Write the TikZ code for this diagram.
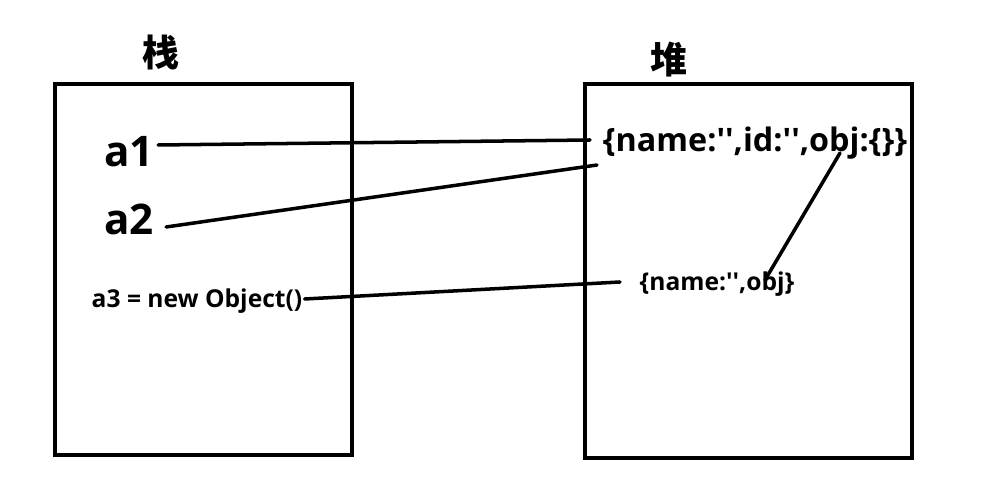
\documentclass[tikz,border=0pt]{standalone}
\usepackage{fontspec}
\setmainfont{Open Sans}
\newfontfamily\cjk{Noto Sans CJK SC}
\begin{document}
\begin{tikzpicture}[x=0.02cm,y=-0.02cm]

% pixel grid of the drawing
\useasboundingbox (0,0) rectangle (997,502);
% styles
\tikzstyle{mem} = [draw, line width=2.3pt];
\tikzstyle{title} = [font=\cjk\bfseries\fontsize{21}{21}\selectfont];
\tikzstyle{big} = [font=\bfseries\fontsize{24}{24}\selectfont, inner sep=0pt];
\tikzstyle{mid} = [font=\bfseries\fontsize{18.4}{18.4}\selectfont, inner sep=0pt];
\tikzstyle{small} = [font=\bfseries\fontsize{14}{14}\selectfont, inner sep=0pt];
\tikzstyle{link} = [line width=2pt, line cap=round];
\def\q{\textquotesingle\textquotesingle}

% stack and heap
\draw[mem] (55,84) rectangle (352,455);
\draw[mem] (585,84) rectangle (912,458);
\node[title] (stack) at (161,53) {栈};
\node[title] (heap) at (669,60) {堆};

% variables
\node[big] (a1) at (129,152) {a1};
\node[big] (a2) at (129,219) {a2};
\node[small] (a3) at (197,301) {a3 = new Object()};

% objects
\node[mid] (o1) at (755,143) {\{name:\q,id:\q,obj:\{\}\}};
\node[small] (o2) at (717,284) {\{name:\q,obj\}};

\coordinate (p1) at (590,140);
\coordinate (p2) at (597,165);
\coordinate (p3) at (620,282);
\coordinate (q1) at (840,153);
\coordinate (q2) at (765,280);

\draw[link] (a1.east) ++(4,-7) -- (p1);
\draw[link] (a2.east) ++(12,8) -- (p2);
\draw[link] (a3.east) ++(2,-2) -- (p3);
\draw[link] (q1) -- (q2);

\end{tikzpicture}
\end{document}
